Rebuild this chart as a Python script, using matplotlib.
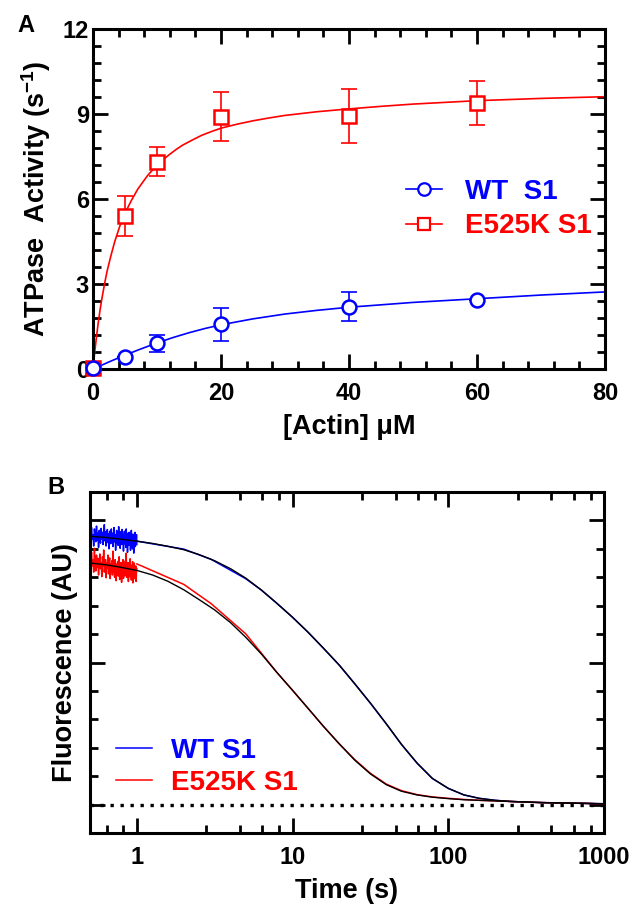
import matplotlib
matplotlib.use("Agg")
import matplotlib.pyplot as plt
from matplotlib.ticker import FixedLocator, FixedFormatter, MultipleLocator, NullFormatter
import numpy as np

plt.rcParams['font.family'] = ['Liberation Sans', 'DejaVu Sans']
plt.rcParams['font.weight'] = 'bold'
plt.rcParams['axes.labelweight'] = 'bold'
plt.rcParams['mathtext.fontset'] = 'custom'
plt.rcParams['mathtext.rm'] = 'Liberation Sans:bold'
plt.rcParams['mathtext.bf'] = 'Liberation Sans:bold'

# ---- panel A: actin-activated ATPase ----
actin = [0, 5, 10, 20, 40, 60]
wt_rate = [0.02, 0.41, 0.91, 1.58, 2.20, 2.44]
wt_err = [0.0, 0.0, 0.30, 0.59, 0.52, 0.0]
mut_rate = [0.05, 5.41, 7.32, 8.91, 8.93, 9.38]
mut_err = [0.0, 0.71, 0.50, 0.88, 0.97, 0.77]

# fitted hyperbolas
wt_fit_x = [0, 2.5, 5, 7.5, 10, 12.5, 15, 17.5, 20, 25, 30, 35, 40, 50, 60, 70, 80]
wt_fit_y = [0.0, 0.25, 0.49, 0.71, 0.92, 1.11, 1.28, 1.43, 1.56, 1.77, 1.94, 2.07, 2.18,
            2.35, 2.48, 2.61, 2.72]
mut_fit_x = [0, 0.15, 0.3, 0.5, 0.8, 1.1, 1.4, 1.8, 2.2, 2.8, 3.4, 4.2, 5, 6, 7, 8.5,
             10, 11, 12, 13, 14, 15.5, 17, 18.5, 20, 22.5, 25, 27.5, 30, 35, 40, 45, 50,
             55, 60, 70, 80]
mut_fit_y = [0.0, 0.34, 0.66, 1.05, 1.60, 2.08, 2.50, 3.00, 3.45, 4.00, 4.50, 5.05, 5.50,
             5.95, 6.35, 6.82, 7.20, 7.40, 7.58, 7.75, 7.90, 8.08, 8.25, 8.38, 8.50, 8.64,
             8.76, 8.86, 8.95, 9.08, 9.18, 9.27, 9.35, 9.41, 9.47, 9.55, 9.61]

# ---- panel B: fluorescence transients ----
noise_t = np.linspace(0.5, 1.0, 90)
wt_noise = [9.62, 9.20, 9.75, 9.35, 9.50, 9.10, 9.70, 9.45, 9.25, 9.80, 9.30, 9.55, 9.05, 9.65, 9.40,
            9.20, 9.72, 9.35, 9.58, 9.15, 9.48, 9.85, 9.28, 9.60, 9.10, 9.42, 9.68, 9.22, 9.52, 9.00,
            9.62, 9.38, 9.18, 9.70, 9.30, 9.55, 9.08, 9.45, 9.75, 9.25, 9.50, 8.95, 9.40, 9.65, 9.20,
            9.55, 9.12, 9.78, 9.30, 9.45, 9.02, 9.60, 9.35, 9.15, 9.68, 9.28, 9.50, 8.92, 9.42, 9.62,
            9.18, 9.48, 9.05, 9.70, 9.25, 9.40, 8.88, 9.55, 9.32, 9.12, 9.58, 9.22, 9.45, 8.95, 9.38,
            9.65, 9.15, 9.40, 9.00, 9.52, 9.28, 8.85, 9.45, 9.20, 9.58, 9.08, 9.35, 9.25, 9.50, 9.15]
mut_noise = [8.72, 8.28, 8.88, 8.40, 8.62, 8.18, 9.02, 8.45, 8.22, 8.78, 8.35, 8.66, 8.08, 8.55, 8.82,
             8.30, 8.52, 8.02, 8.72, 8.40, 8.96, 8.18, 8.46, 8.62, 7.98, 8.50, 8.32, 8.78, 8.12, 8.42,
             8.68, 7.95, 8.48, 8.25, 8.58, 8.08, 8.92, 8.20, 8.42, 8.00, 8.62, 8.30, 7.88, 8.46, 8.15,
             8.56, 8.04, 8.36, 8.72, 7.92, 8.32, 8.10, 8.52, 7.82, 8.42, 8.20, 8.62, 7.96, 8.26, 8.46,
             8.05, 8.58, 8.22, 8.85, 8.00, 8.38, 8.15, 8.52, 7.85, 8.30, 8.48, 8.02, 8.65, 8.18, 8.35,
             7.90, 8.42, 8.10, 8.55, 7.80, 8.28, 8.12, 8.50, 7.95, 8.32, 8.05, 8.40, 7.85, 8.22, 8.30]

# fitted curves, sampled on a log time grid
fit_t = [0.5, 0.63, 0.79, 1, 1.26, 1.58, 2, 2.5, 3.16, 4, 5, 6.3, 7.9, 10, 12.6, 15.8, 20,
         25, 31.6, 40, 50, 63, 79, 100, 126, 158, 200, 251, 316, 398, 501, 631, 794, 1000]
wt_fit_v = [9.44, 9.40, 9.34, 9.27, 9.19, 9.09, 8.97, 8.80, 8.58, 8.30, 7.97, 7.55, 7.09,
            6.59, 6.06, 5.50, 4.90, 4.26, 3.57, 2.84, 2.12, 1.46, 0.92, 0.57, 0.34, 0.22,
            0.15, 0.11, 0.09, 0.07, 0.06, 0.05, 0.04, 0.03]
mut_fit_v = [8.50, 8.44, 8.35, 8.24, 8.08, 7.86, 7.56, 7.22, 6.85, 6.40, 5.89, 5.30, 4.66,
             4.02, 3.38, 2.75, 2.13, 1.57, 1.08, 0.70, 0.47, 0.34, 0.26, 0.21, 0.17, 0.15,
             0.13, 0.11, 0.09, 0.07, 0.06, 0.05, 0.04, 0.02]

# measured traces after 1 s (sparser sampling at early times)
wt_t = [1, 2, 3, 5, 6.3, 7.9, 10, 12.6, 15.8, 20, 25, 31.6, 40, 50, 63, 79, 100, 126, 158,
        200, 251, 316, 398, 501, 631, 794, 1000]
wt_y = [9.27, 8.99, 8.63, 7.95, 7.55, 7.09, 6.59, 6.06, 5.50, 4.90, 4.26, 3.57, 2.84, 2.12,
        1.46, 0.92, 0.57, 0.34, 0.22, 0.15, 0.11, 0.09, 0.07, 0.06, 0.05, 0.04, 0.03]
mut_t = [1, 2, 3, 5, 7, 7.9, 10, 12.6, 15.8, 20, 25, 31.6, 40, 50, 63, 79, 100, 126, 158,
         200, 251, 316, 398, 501, 631, 794, 1000]
mut_y = [8.47, 7.75, 7.07, 6.01, 5.02, 4.66, 4.02, 3.38, 2.75, 2.13, 1.59, 1.10, 0.72, 0.49,
         0.35, 0.27, 0.22, 0.18, 0.15, 0.13, 0.11, 0.09, 0.07, 0.06, 0.05, 0.04, 0.02]

baseline = 0.0

BLUE = '#0000ff'
RED = '#ff0000'

fig = plt.figure(figsize=(6.33, 9.11), dpi=100)
axA = fig.add_axes([93 / 633, 1 - 369 / 911, 512 / 633, 340 / 911])
axB = fig.add_axes([90 / 633, 1 - 833 / 911, 514 / 633, 341 / 911])


def style_axes(ax):
    for s in ax.spines.values():
        s.set_linewidth(2.2)
    ax.tick_params(which='both', direction='in', top=True, right=True, width=2.0,
                   labelsize=17)
    ax.tick_params(which='major', length=10.5)
    ax.tick_params(which='minor', length=5.5)
    ax.tick_params(axis='x', pad=9)
    ax.tick_params(axis='y', pad=3)


# panel A
axA.plot(mut_fit_x, mut_fit_y, color=RED, lw=1.2, zorder=2)
axA.plot(wt_fit_x, wt_fit_y, color=BLUE, lw=1.2, zorder=2)
axA.errorbar(actin, mut_rate, yerr=mut_err, fmt='none', ecolor=RED, elinewidth=1.2,
             capsize=5.5, capthick=1.2, zorder=3)
axA.errorbar(actin, wt_rate, yerr=wt_err, fmt='none', ecolor=BLUE, elinewidth=1.2,
             capsize=5.5, capthick=1.2, zorder=3)
axA.plot(actin, mut_rate, ls='none', marker='s', ms=10.5, mfc='white', mec=RED, mew=1.8,
         zorder=4, clip_on=False)
axA.plot(actin, wt_rate, ls='none', marker='o', ms=10, mfc='white', mec=BLUE, mew=1.8,
         zorder=5, clip_on=False)
# legend handles
hA1, = axA.plot([], [], color=BLUE, lw=1.2, marker='o', ms=9, mfc='white', mec=BLUE, mew=1.6)
hA2, = axA.plot([], [], color=RED, lw=1.2, marker='s', ms=9, mfc='white', mec=RED, mew=1.6)
legA = axA.legend([hA1, hA2], ['WT  S1', 'E525K S1'], loc='upper left',
                  bbox_to_anchor=(0.612, 0.56), frameon=False, fontsize=20,
                  handlelength=1.3, handletextpad=0.8, labelspacing=0.32,
                  borderpad=0, borderaxespad=0)
for t, c in zip(legA.get_texts(), [BLUE, RED]):
    t.set_color(c)

axA.set_xlim(0, 80)
axA.set_ylim(0, 12)
axA.xaxis.set_major_locator(MultipleLocator(20))
axA.xaxis.set_minor_locator(MultipleLocator(4))
axA.yaxis.set_major_locator(MultipleLocator(3))
axA.yaxis.set_minor_locator(MultipleLocator(0.6))
style_axes(axA)
axA.set_xlabel('[Actin] μM', fontsize=19.5, labelpad=7)
axA.set_ylabel(r'ATPase  Activity (s$^{\mathbf{-1}}$)', fontsize=19.5, labelpad=7)
fig.text(26 / 633, 1 - 25 / 911, 'A', fontsize=17, ha='center', va='center')

# panel B
axB.plot(noise_t, wt_noise, color=BLUE, lw=1.1, zorder=2)
axB.plot(noise_t, mut_noise, color=RED, lw=1.1, zorder=2)
hB1, = axB.plot(wt_t, wt_y, color=BLUE, lw=1.1, zorder=2)
hB2, = axB.plot(mut_t, mut_y, color=RED, lw=1.1, zorder=2)
axB.plot(fit_t, wt_fit_v, color='black', lw=1.0, zorder=3)
axB.plot(fit_t, mut_fit_v, color='black', lw=1.0, zorder=3)
axB.axhline(baseline, color='black', lw=2.4, ls=(0, (1, 2.0)), zorder=1)

legB = axB.legend([hB1, hB2], ['WT S1', 'E525K S1'], loc='upper left',
                  bbox_to_anchor=(0.05, 0.28), frameon=False, fontsize=20,
                  handlelength=1.3, handletextpad=0.7, labelspacing=0.22,
                  borderpad=0, borderaxespad=0)
for t, c in zip(legB.get_texts(), [BLUE, RED]):
    t.set_color(c)

axB.set_xscale('log')
axB.set_xlim(0.5, 1000)
axB.set_ylim(-1, 11)
axB.xaxis.set_major_locator(FixedLocator([1, 10, 100, 1000]))
axB.xaxis.set_major_formatter(FixedFormatter(['1', '10', '100', '1000']))
minor_t = [d * m for d in [0.1, 1, 10, 100] for m in [2.8, 4.6, 6.4, 8.2]]
axB.xaxis.set_minor_locator(FixedLocator(minor_t))
axB.xaxis.set_minor_formatter(NullFormatter())
axB.yaxis.set_major_locator(MultipleLocator(5))
axB.yaxis.set_minor_locator(MultipleLocator(1))
style_axes(axB)
axB.set_yticklabels([])
axB.set_xlabel('Time (s)', fontsize=19.5, labelpad=7)
axB.set_ylabel('Fluorescence (AU)', fontsize=19.5, labelpad=5)
fig.text(56 / 633, 1 - 487 / 911, 'B', fontsize=17, ha='center', va='center')

fig.savefig('out.png', dpi=100)
